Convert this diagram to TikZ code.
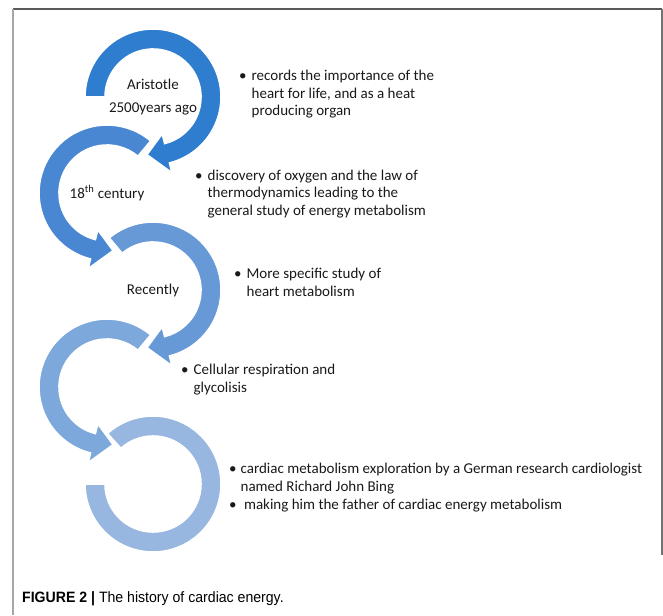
\documentclass[tikz,border=0pt]{standalone}
\usepackage{fontspec}
\setmainfont{Carlito}
\newfontfamily\capfont{Liberation Sans}
\usepackage{xcolor}
\usepackage{tikz}

\definecolor{ringA}{HTML}{2E7DCF}
\definecolor{ringB}{HTML}{4A87D2}
\definecolor{ringC}{HTML}{6699D6}
\definecolor{ringD}{HTML}{7CA8DC}
\definecolor{ringE}{HTML}{97B6E0}

% ring arrow: centre, start angle, end angle, tip angle, colour
\newcommand{\ringarrow}[5]{%
  \filldraw[ring, fill=#5, shift={#1}]
    (#2:68) arc[start angle=#2, end angle=#3, radius=68]
    -- (#3:78) -- (#4:58) -- (#3:38) -- (#3:48)
    arc[start angle=#3, end angle=#2, radius=48] -- cycle;}

\begin{document}
\begin{tikzpicture}[
  x=1pt, y=1pt,
  every node/.style={text=black!90},
  ring/.style={draw=white, line width=1.6pt, line join=miter},
  label/.style={align=center, font=\fontsize{15}{18}\selectfont},
  note/.style={anchor=west, inner sep=0pt, font=\fontsize{15}{17.5}\selectfont},
]
\useasboundingbox (0,0) rectangle (663,-615);

% frame
\draw[black!65, line width=1.5pt] (13,-9) -- (662,-9);
\draw[black!35, line width=1.5pt] (13,-9) -- (13,-615);
\draw[black!55, line width=1.2pt] (662,-9) -- (662,-555);

% circle centres
\coordinate (c1) at (153,-97);
\coordinate (c2) at (107,-193);
\coordinate (c3) at (153,-290);
\coordinate (c4) at (107,-387);
\coordinate (c5) at (153,-484);

% ring arrows, last one first
\filldraw[ring, fill=ringE, shift={(c5)}]
  (132:68) arc[start angle=132, end angle=-180, radius=68]
  -- (180:48) arc[start angle=-180, end angle=132, radius=48] -- cycle;
\ringarrow{(c4)}{50}{256}{276}{ringD}
\ringarrow{(c3)}{130}{-76}{-96}{ringC}
\ringarrow{(c2)}{50}{256}{276}{ringB}
\ringarrow{(c1)}{180}{-76}{-96}{ringA}

% labels in the rings
\node[label] (aristotle) at (c1) {Aristotle\\[5pt]2500years ago};
\node[label] (century) at (c2) {18\textsuperscript{th} century};
\node[label] (recently) at (c3) {Recently};

% notes
\node[note] (rec) at (239,-95) {\begin{tabular}{@{}l@{\hspace{5pt}}l@{}}
  \textbullet & records the importance of the\\
  & heart for life, and as a heat\\
  & producing organ\end{tabular}};
\node[note] (oxy) at (195,-194) {\begin{tabular}{@{}l@{\hspace{5pt}}l@{}}
  \textbullet & discovery of oxygen and the law of\\
  & thermodynamics leading to the\\
  & general study of energy metabolism\end{tabular}};
\node[note] (spec) at (234,-284) {\begin{tabular}{@{}l@{\hspace{5pt}}l@{}}
  \textbullet & More specific study of\\
  & heart metabolism\end{tabular}};
\node[note] (resp) at (181,-380) {\begin{tabular}{@{}l@{\hspace{5pt}}l@{}}
  \textbullet & Cellular respiration and\\
  & glycolisis\end{tabular}};
\node[note] (bing) at (229,-488) {\begin{tabular}{@{}l@{\hspace{4pt}}l@{}}
  \textbullet & cardiac metabolism exploration by a German research cardiologist\\
  & named Richard John Bing\\[1pt]
  \textbullet & \ making him the father of cardiac energy metabolism\end{tabular}};

% caption
\node[anchor=west, inner sep=0pt, text=black, font=\capfont\fontsize{15}{18}\selectfont]
  (caption) at (22,-599) {\scalebox{0.94}[1]{\textbf{FIGURE 2 |} The history of cardiac energy.}};

\end{tikzpicture}
\end{document}
